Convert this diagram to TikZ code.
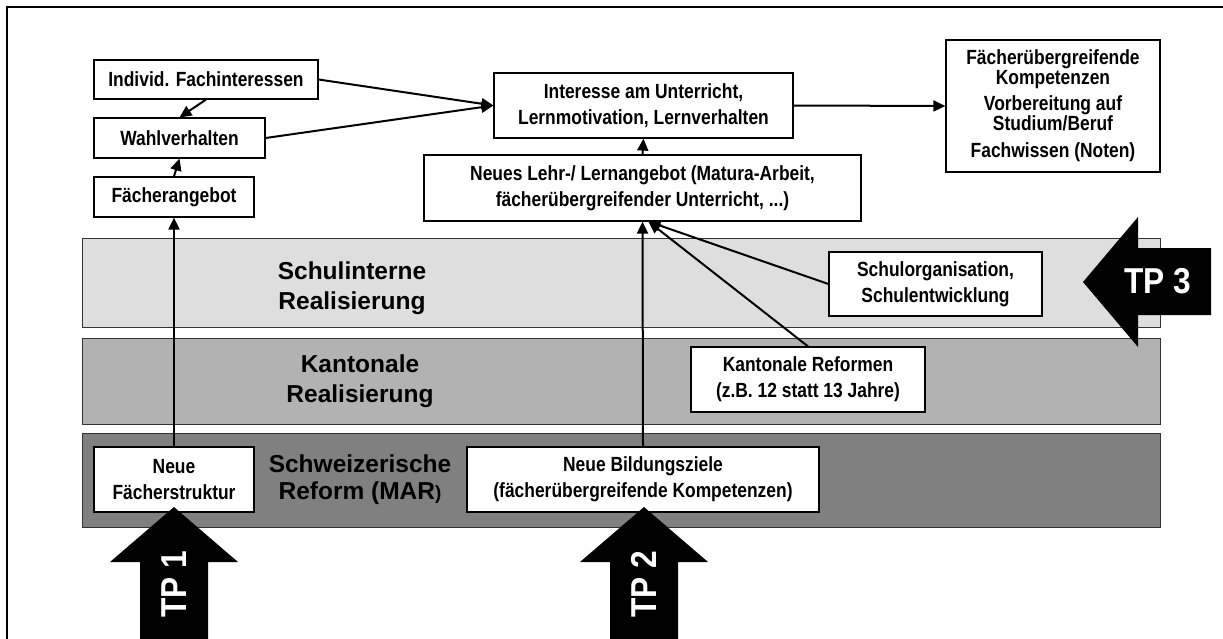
\documentclass[tikz,border=0pt]{standalone}
\usepackage{fontspec}
\setmainfont{Liberation Sans}
\newfontfamily\narrowfont{Liberation Sans}[FakeStretch=0.85]
\newfontfamily\tpfont{Liberation Sans}[FakeStretch=0.88]
\usetikzlibrary{arrows.meta}
\definecolor{bandlight}{gray}{0.87}
\definecolor{bandmid}{gray}{0.70}
\definecolor{banddark}{gray}{0.50}
\tikzset{
  box/.style={draw, line width=1.2pt, fill=white, inner sep=0pt, align=center,
    font=\narrowfont\bfseries\fontsize{20.5}{26}\selectfont},
  band/.style={draw=black!80, line width=1pt},
  bandlabel/.style={align=center, font=\bfseries\fontsize{24.5}{30}\selectfont},
  tplabel/.style={text=white, inner sep=0pt, font=\tpfont\bfseries\fontsize{36}{36}\selectfont},
  link/.style={line width=2pt, -{Triangle[length=12pt, width=11pt]}},
}
\begin{document}
\begin{tikzpicture}[x=1pt, y=-1pt]
      \useasboundingbox (0,0) rectangle (1223,639);
      \clip (0,0) rectangle (1223,639);
      \draw[line width=1.5pt] (7,7) rectangle (1240,660);
      \draw[band, fill=bandlight] (82,238) rectangle (1160,327);
      \draw[band, fill=bandmid] (82,338) rectangle (1160,424);
      \draw[band, fill=banddark] (82,433) rectangle (1160,527);
      \node[bandlabel] (schulint) at (352,288) {Schulinterne\\Realisierung};
      \node[bandlabel] (kanton) at (360,381) {Kantonale\\Realisierung};
      \node[bandlabel, font=\bfseries\fontsize{24.5}{27}\selectfont] (schweiz) at (360,480)
        {Schweizerische\\Reform (MAR{\fontsize{19}{19}\selectfont)}};
      \fill (1083,282) -- (1138,217) -- (1138,248) -- (1211,248) -- (1211,315)
        -- (1138,315) -- (1138,347) -- cycle;
      \node[tplabel] (tp3) at (1158,281) {TP 3};
      \node[box, minimum width=224, minimum height=39] (indiv) at (206,79.5) {Individ. Fachinteressen};
      \node[box, minimum width=171, minimum height=40] (wahl) at (179.5,138) {Wahlverhalten};
      \node[box, minimum width=160, minimum height=40] (faecher) at (174,197) {Fächerangebot};
      \node[box, minimum width=299, minimum height=65] (interesse) at (643.5,105.5)
        {Interesse am Unterricht,\\Lernmotivation, Lernverhalten};
      \node[box, minimum width=437, minimum height=66] (lehr) at (642.5,188)
        {Neues Lehr-/ Lernangebot (Matura-Arbeit,\\fächerübergreifender Unterricht, ...)};
      \node[box, minimum width=214, minimum height=132,
        font=\narrowfont\bfseries\fontsize{20.5}{20}\selectfont] (kompetenz) at (1053,106)
        {Fächerübergreifende\\Kompetenzen\\[6pt]Vorbereitung auf\\Studium/Beruf\\[7pt]Fachwissen (Noten)};
      \node[box, minimum width=213, minimum height=64] (schulorg) at (935.5,284)
        {Schulorganisation,\\Schulentwicklung};
      \node[box, minimum width=234, minimum height=65] (kantref) at (808,379.5)
        {Kantonale Reformen\\(z.B. 12 statt 13 Jahre)};
      \node[box, minimum width=160, minimum height=65] (struktur) at (174,479.5)
        {Neue\\Fächerstruktur};
      \node[box, minimum width=352, minimum height=65] (bildung) at (643,479.5)
        {Neue Bildungsziele\\(fächerübergreifende Kompetenzen)};
      \coordinate (lehrin) at ([xshift=6pt]lehr.south);
      \begin{scope}[link]
        \draw (indiv.east) to (interesse.west);
        \draw (wahl.east) to (interesse.west);
        \draw (interesse.east) to (kompetenz.west);
        \draw (indiv.south) to (wahl.north);
        \draw (faecher.north) to (wahl.south);
        \draw (struktur.north) to (faecher.south);
        \draw (lehr.north) to (interesse.south);
        \draw (bildung.north) to (lehr.south);
        \draw (schulorg.west) to (lehrin);
        \draw (kantref.north) to (lehrin);
      \end{scope}
      \fill (174,507) -- (238,562) -- (208,562) -- (208,645) -- (140,645) -- (140,562)
        -- (110,562) -- cycle;
      \node[tplabel, rotate=90] (tp1) at (174,584) {TP 1};
      \fill (644,507) -- (708,562) -- (678,562) -- (678,645) -- (610,645) -- (610,562)
        -- (580,562) -- cycle;
      \node[tplabel, rotate=90] (tp2) at (644,584) {TP 2};
    \end{tikzpicture}
\end{document}
